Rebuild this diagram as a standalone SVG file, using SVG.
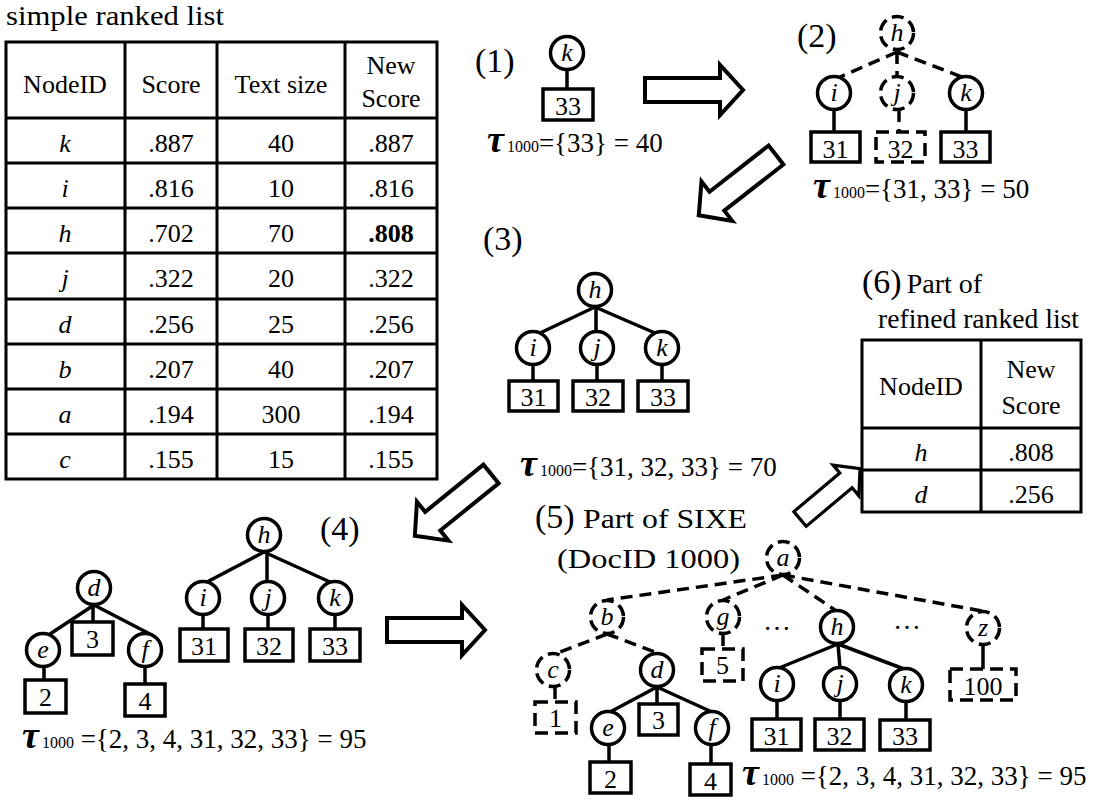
<svg xmlns="http://www.w3.org/2000/svg" xmlns:xlink="http://www.w3.org/1999/xlink" width="1099" height="802" viewBox="0 0 1099 802" font-family="Liberation Serif, DejaVu Serif, serif">
  <style>
    text { font-family: "Liberation Serif", "DejaVu Serif", serif; fill: #000; }
    .cell { font-size: 26px; text-anchor: middle; }
    .it { font-style: italic; }
    .b { font-weight: bold; }
    .grid { fill: none; stroke: #000; stroke-width: 3; }
    .n { fill: #fff; stroke: #000; stroke-width: 3.5; }
    .nd { fill: #fff; stroke: #000; stroke-width: 3.5; stroke-dasharray: 12 6; }
    .bx { fill: #fff; stroke: #000; stroke-width: 3.5; }
    .bxd { fill: #fff; stroke: #000; stroke-width: 3.5; stroke-dasharray: 13 7; }
    .nl { font-size: 26px; font-style: italic; text-anchor: middle; }
    .num { font-size: 26px; text-anchor: middle; }
    .e { stroke: #000; stroke-width: 3.5; fill: none; }
    .ed { stroke: #000; stroke-width: 3.5; fill: none; stroke-dasharray: 12 7; }
    .step { font-size: 34px; }
    .cap { font-size: 28px; }
    .tau { font-size: 27px; }
    .t { font-size: 38px; font-style: italic; font-weight: bold; }
    .sub { font-size: 16px; }
    .arw { fill: #fff; stroke: #000; stroke-width: 4; stroke-linejoin: miter; }
  </style>
  <defs>
    <path id="arrow" class="arw" d="M0,-12 H75 V-25 L98,0 L75,25 V12 H0 Z"/>
  </defs>

  <!-- simple ranked list -->
  <g id="ranked-list">
    <text x="6" y="25" class="cap" textLength="218" lengthAdjust="spacingAndGlyphs">simple ranked list</text>
    <rect class="grid" x="6" y="42" width="431" height="437"/>
    <path class="grid" d="M125,42V479 M217,42V479 M345,42V479 M6,118H437 M6,163H437 M6,208H437 M6,253H437 M6,299H437 M6,344H437 M6,389H437 M6,434H437"/>
    <text class="cell" x="65" y="93">NodeID</text>
    <text class="cell" x="171" y="93">Score</text>
    <text class="cell" x="281" y="93">Text size</text>
    <text class="cell" x="391" y="74">New</text>
    <text class="cell" x="391" y="107">Score</text>

    <text class="cell it" x="65" y="152">k</text><text class="cell" x="171" y="152">.887</text><text class="cell" x="281" y="152">40</text><text class="cell" x="391" y="152">.887</text>
    <text class="cell it" x="65" y="197">i</text><text class="cell" x="171" y="197">.816</text><text class="cell" x="281" y="197">10</text><text class="cell" x="391" y="197">.816</text>
    <text class="cell it" x="65" y="242">h</text><text class="cell" x="171" y="242">.702</text><text class="cell" x="281" y="242">70</text><text class="cell b" x="391" y="242">.808</text>
    <text class="cell it" x="65" y="287">j</text><text class="cell" x="171" y="287">.322</text><text class="cell" x="281" y="287">20</text><text class="cell" x="391" y="287">.322</text>
    <text class="cell it" x="65" y="333">d</text><text class="cell" x="171" y="333">.256</text><text class="cell" x="281" y="333">25</text><text class="cell" x="391" y="333">.256</text>
    <text class="cell it" x="65" y="378">b</text><text class="cell" x="171" y="378">.207</text><text class="cell" x="281" y="378">40</text><text class="cell" x="391" y="378">.207</text>
    <text class="cell it" x="65" y="423">a</text><text class="cell" x="171" y="423">.194</text><text class="cell" x="281" y="423">300</text><text class="cell" x="391" y="423">.194</text>
    <text class="cell it" x="65" y="468">c</text><text class="cell" x="171" y="468">.155</text><text class="cell" x="281" y="468">15</text><text class="cell" x="391" y="468">.155</text>
  </g>

  <!-- step arrows -->
  <g id="arrows">
    <use xlink:href="#arrow" transform="translate(645,90)"/>
    <use xlink:href="#arrow" transform="translate(776,155) rotate(142)"/>
    <use xlink:href="#arrow" transform="translate(491,474) rotate(141)"/>
    <use xlink:href="#arrow" transform="translate(387,630)"/>
    <use xlink:href="#arrow" transform="translate(800,519) rotate(-40) scale(0.8)"/>
  </g>

  <!-- tree edges -->
  <g id="connectors">
    <!-- (1) -->
    <path class="e" d="M567,70V89"/>
    <!-- (2) -->
    <path class="ed" d="M897,52L840,77 M897,52V76 M897,52L962,77 M899,110V132"/>
    <path class="e" d="M834,110V132 M966,110V132"/>
    <!-- (3) -->
    <path class="e" d="M595,307L540,333 M596,307V331 M595,307L655,333 M533,365V381 M597,365V381 M662,365V381"/>
    <!-- (4) -->
    <path class="e" d="M264,552L207,582 M267,552V581 M264,552L330,582 M203,615V629 M268,615V629 M335,615V629"/>
    <path class="e" d="M94,605L50,634 M93,605V622 M94,605L150,634 M44,667V680 M145,667V684"/>
    <!-- (5) -->
    <path class="ed" d="M783,575L607,600 M783,575L723,600 M783,575L835,610 M783,575L982,611 M607,634L555,654 M607,634L655,652 M723,634V649 M555,687V702"/>
    <path class="e" d="M657,687L610,712 M657,687V704 M657,687L712,712 M609,745V762 M711,745V764"/>
    <path class="e" d="M838,644L779,668 M838,644L840,668 M838,644L904,669 M777,701V719 M840,701V719 M906,702V720 M983,645V669"/>
  </g>

  <!-- (1) -->
  <g id="step1">
    <text class="step" x="475" y="72">(1)</text>
    <g id="s1-k"><circle class="n" cx="567" cy="53" r="16.5"/><text class="nl" x="567" y="61">k</text></g>
    <g id="s1-33"><rect class="bx" x="543" y="89" width="50" height="31"/><text class="num" x="568" y="115">33</text></g>
    <text class="tau" x="487" y="152"><tspan class="t">τ</tspan><tspan class="sub" dx="3">1000</tspan><tspan>={33} = 40</tspan></text>
  </g>

  <!-- (2) -->
  <g id="step2">
    <text class="step" x="797" y="47">(2)</text>
    <g id="s2-h"><circle class="nd" cx="897" cy="33" r="16.5"/><text class="nl" x="897" y="41">h</text></g>
    <g id="s2-i"><circle class="n" cx="834" cy="93" r="16.5"/><text class="nl" x="834" y="101">i</text></g>
    <g id="s2-j"><circle class="nd" cx="897" cy="93" r="16.5"/><text class="nl" x="897" y="101">j</text></g>
    <g id="s2-k"><circle class="n" cx="966" cy="93" r="16.5"/><text class="nl" x="966" y="101">k</text></g>
    <g id="s2-31"><rect class="bx" x="811" y="132" width="49" height="30"/><text class="num" x="835.5" y="158">31</text></g>
    <g id="s2-32"><rect class="bxd" x="876" y="132" width="49" height="30"/><text class="num" x="900.5" y="158">32</text></g>
    <g id="s2-33"><rect class="bx" x="941" y="132" width="49" height="30"/><text class="num" x="965.5" y="158">33</text></g>
    <text class="tau" x="813" y="198"><tspan class="t">τ</tspan><tspan class="sub" dx="3">1000</tspan><tspan>={31, 33} = 50</tspan></text>
  </g>

  <!-- (3) -->
  <g id="step3">
    <text class="step" x="483" y="250">(3)</text>
    <g id="s3-h"><circle class="n" cx="595" cy="290" r="16.5"/><text class="nl" x="595" y="298">h</text></g>
    <g id="s3-i"><circle class="n" cx="533" cy="348" r="16.5"/><text class="nl" x="533" y="356">i</text></g>
    <g id="s3-j"><circle class="n" cx="597" cy="348" r="16.5"/><text class="nl" x="597" y="356">j</text></g>
    <g id="s3-k"><circle class="n" cx="662" cy="348" r="16.5"/><text class="nl" x="662" y="356">k</text></g>
    <g id="s3-31"><rect class="bx" x="509" y="381" width="49" height="30"/><text class="num" x="533.5" y="406">31</text></g>
    <g id="s3-32"><rect class="bx" x="573" y="381" width="50" height="30"/><text class="num" x="598" y="406">32</text></g>
    <g id="s3-33"><rect class="bx" x="638" y="381" width="50" height="30"/><text class="num" x="663" y="406">33</text></g>
    <text class="tau" x="520" y="476"><tspan class="t">τ</tspan><tspan class="sub" dx="3">1000</tspan><tspan>={31, 32, 33} = 70</tspan></text>
  </g>

  <!-- (4) -->
  <g id="step4">
    <text class="step" x="320" y="540">(4)</text>
    <g id="s4-h"><circle class="n" cx="264" cy="535" r="16.5"/><text class="nl" x="264" y="543">h</text></g>
    <g id="s4-i"><circle class="n" cx="203" cy="598" r="16.5"/><text class="nl" x="203" y="606">i</text></g>
    <g id="s4-j"><circle class="n" cx="268" cy="598" r="16.5"/><text class="nl" x="268" y="606">j</text></g>
    <g id="s4-k"><circle class="n" cx="335" cy="598" r="16.5"/><text class="nl" x="335" y="606">k</text></g>
    <g id="s4-31"><rect class="bx" x="180" y="629" width="48" height="32"/><text class="num" x="204" y="655">31</text></g>
    <g id="s4-32"><rect class="bx" x="245" y="629" width="48" height="32"/><text class="num" x="269" y="655">32</text></g>
    <g id="s4-33"><rect class="bx" x="310" y="629" width="50" height="32"/><text class="num" x="335" y="655">33</text></g>
    <g id="s4-d"><circle class="n" cx="94" cy="588" r="16.5"/><text class="nl" x="94" y="596">d</text></g>
    <g id="s4-e"><circle class="n" cx="43" cy="650" r="16.5"/><text class="nl" x="43" y="658">e</text></g>
    <g id="s4-f"><circle class="n" cx="145" cy="650" r="16.5"/><text class="nl" x="145" y="658">f</text></g>
    <g id="s4-3"><rect class="bx" x="72" y="622" width="41" height="33"/><text class="num" x="92.5" y="648">3</text></g>
    <g id="s4-2"><rect class="bx" x="25" y="680" width="41" height="33"/><text class="num" x="45.5" y="706">2</text></g>
    <g id="s4-4"><rect class="bx" x="125" y="684" width="40" height="32"/><text class="num" x="145" y="710">4</text></g>
    <text class="tau" x="22" y="748"><tspan class="t">τ</tspan><tspan class="sub" dx="3">1000</tspan><tspan> ={2, 3, 4, 31, 32, 33} = 95</tspan></text>
  </g>

  <!-- (5) -->
  <g id="step5">
    <text x="535" y="528"><tspan class="step">(5)</tspan></text>
    <text class="cap" x="583" y="528" textLength="164" lengthAdjust="spacingAndGlyphs">Part of SIXE</text>
    <text class="cap" x="557" y="568" textLength="183" lengthAdjust="spacingAndGlyphs">(DocID 1000)</text>
    <g id="s5-a"><circle class="nd" cx="783" cy="558" r="16.5"/><text class="nl" x="783" y="566">a</text></g>
    <g id="s5-b"><circle class="nd" cx="607" cy="617" r="16.5"/><text class="nl" x="607" y="625">b</text></g>
    <g id="s5-g"><circle class="nd" cx="723" cy="617" r="16.5"/><text class="nl" x="723" y="625">g</text></g>
    <g id="s5-h"><circle class="n" cx="837" cy="627" r="16.5"/><text class="nl" x="837" y="635">h</text></g>
    <g id="s5-z"><circle class="nd" cx="983" cy="628" r="16.5"/><text class="nl" x="983" y="636">z</text></g>
    <g id="s5-c"><circle class="nd" cx="553" cy="670" r="16.5"/><text class="nl" x="553" y="678">c</text></g>
    <g id="s5-d"><circle class="n" cx="657" cy="670" r="16.5"/><text class="nl" x="657" y="678">d</text></g>
    <g id="s5-e"><circle class="n" cx="608" cy="728" r="16.5"/><text class="nl" x="608" y="736">e</text></g>
    <g id="s5-f"><circle class="n" cx="712" cy="728" r="16.5"/><text class="nl" x="712" y="736">f</text></g>
    <g id="s5-i"><circle class="n" cx="777" cy="684" r="16.5"/><text class="nl" x="777" y="692">i</text></g>
    <g id="s5-j"><circle class="n" cx="840" cy="684" r="16.5"/><text class="nl" x="840" y="692">j</text></g>
    <g id="s5-k"><circle class="n" cx="906" cy="685" r="16.5"/><text class="nl" x="906" y="693">k</text></g>
    <g id="s5-1"><rect class="bxd" x="535" y="702" width="41" height="31"/><text class="num" x="555.5" y="727">1</text></g>
    <g id="s5-5"><rect class="bxd" x="702" y="649" width="41" height="32"/><text class="num" x="722.5" y="674">5</text></g>
    <g id="s5-3"><rect class="bx" x="639" y="704" width="39" height="31"/><text class="num" x="658.5" y="729">3</text></g>
    <g id="s5-2"><rect class="bx" x="590" y="762" width="41" height="31"/><text class="num" x="610.5" y="788">2</text></g>
    <g id="s5-4"><rect class="bx" x="690" y="764" width="41" height="31"/><text class="num" x="710.5" y="790">4</text></g>
    <g id="s5-31"><rect class="bx" x="752" y="719" width="49" height="31"/><text class="num" x="776.5" y="745">31</text></g>
    <g id="s5-32"><rect class="bx" x="815" y="719" width="49" height="31"/><text class="num" x="839.5" y="745">32</text></g>
    <g id="s5-33"><rect class="bx" x="880" y="720" width="50" height="30"/><text class="num" x="905" y="745">33</text></g>
    <g id="s5-100"><rect class="bxd" x="950" y="669" width="66" height="31"/><text class="num" x="983" y="695">100</text></g>
    <text class="cap" x="777" y="630" text-anchor="middle">…</text>
    <text class="cap" x="907" y="629" text-anchor="middle">…</text>
    <text class="tau" x="742" y="785"><tspan class="t">τ</tspan><tspan class="sub" dx="3">1000</tspan><tspan> ={2, 3, 4, 31, 32, 33} = 95</tspan></text>
  </g>

  <!-- (6) refined ranked list -->
  <g id="refined-list">
    <text x="862" y="293"><tspan class="step">(6)</tspan><tspan class="cap" dx="5">Part of</tspan></text>
    <text class="cap" x="878" y="328" textLength="201" lengthAdjust="spacingAndGlyphs">refined ranked list</text>
    <rect class="grid" x="862" y="340" width="219" height="172"/>
    <path class="grid" d="M981,340V512 M862,428H1081 M862,470H1081"/>
    <text class="cell" x="921" y="395">NodeID</text>
    <text class="cell" x="1031" y="378">New</text>
    <text class="cell" x="1031" y="414">Score</text>
    <text class="cell it" x="921" y="461">h</text><text class="cell" x="1031" y="461">.808</text>
    <text class="cell it" x="921" y="503">d</text><text class="cell" x="1031" y="503">.256</text>
  </g>
</svg>
